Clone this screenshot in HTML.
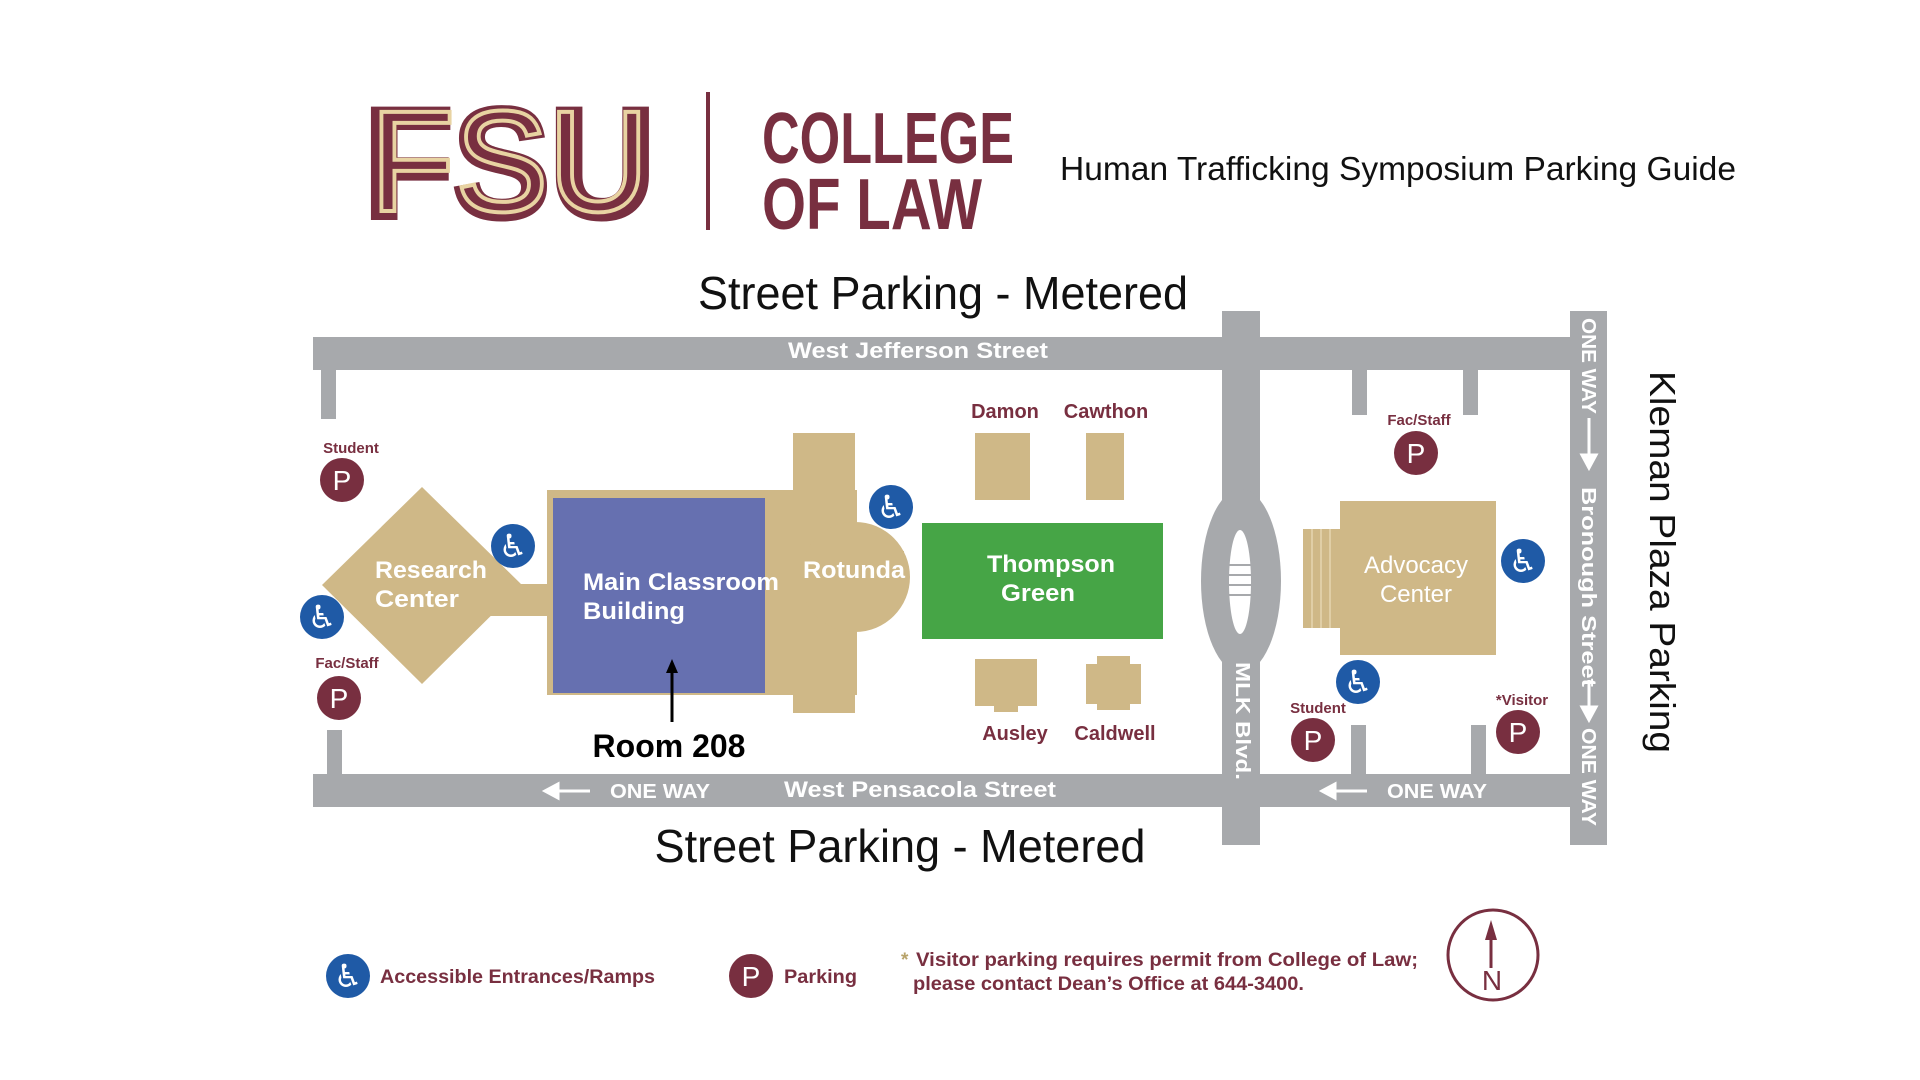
<!DOCTYPE html>
<html><head><meta charset="utf-8"><style>
html,body{margin:0;padding:0;background:#fff;width:1920px;height:1080px;overflow:hidden}
svg{display:block}
text{font-family:"Liberation Sans","DejaVu Sans",sans-serif}
</style></head><body>
<svg width="1920" height="1080" viewBox="0 0 1920 1080" xmlns="http://www.w3.org/2000/svg">
<defs>
<g id="wc"><circle r="22" fill="#1f5aa6"/><text y="11" text-anchor="middle" font-size="32" fill="#fff" font-family="DejaVu Sans">♿</text></g>
<g id="pk"><circle r="22" fill="#782f40"/><text y="10" text-anchor="middle" font-size="28" fill="#fff">P</text></g>
</defs>
<!-- Header -->
<text x="364" y="217" font-size="156" font-weight="bold" fill="#782f40" stroke="#782f40" stroke-width="6" textLength="291" lengthAdjust="spacingAndGlyphs">FSU</text>
<text x="370" y="211" font-size="144" fill="none" stroke="#e8d3a2" stroke-width="4" textLength="279" lengthAdjust="spacingAndGlyphs">FSU</text>
<rect x="706" y="92" width="4" height="138" fill="#782f40"/>
<text x="762" y="163" font-size="72" font-weight="bold" fill="#782f40" textLength="252" lengthAdjust="spacingAndGlyphs">COLLEGE</text>
<text x="762" y="229" font-size="72" font-weight="bold" fill="#782f40" textLength="220" lengthAdjust="spacingAndGlyphs">OF LAW</text>
<text x="1060" y="180" font-size="33" fill="#111" textLength="676" lengthAdjust="spacingAndGlyphs">Human Trafficking Symposium Parking Guide</text>
<text x="943" y="309" font-size="46" fill="#111" text-anchor="middle" textLength="490" lengthAdjust="spacingAndGlyphs">Street Parking - Metered</text>
<text x="900" y="862" font-size="46" fill="#111" text-anchor="middle" textLength="491" lengthAdjust="spacingAndGlyphs">Street Parking - Metered</text>
<!-- Roads -->
<g fill="#a7a9ac">
<rect x="313" y="337" width="1294" height="33"/>
<rect x="313" y="774" width="1294" height="33"/>
<rect x="1222" y="311" width="38" height="534"/>
<rect x="1570" y="311" width="37" height="534"/>
<ellipse cx="1241" cy="581" rx="40" ry="92"/>
<rect x="321" y="370" width="15" height="49"/>
<rect x="327" y="730" width="15" height="44"/>
<rect x="1352" y="370" width="15" height="45"/>
<rect x="1463" y="370" width="15" height="45"/>
<rect x="1351" y="725" width="15" height="49"/>
<rect x="1471" y="725" width="15" height="49"/>
</g>
<ellipse cx="1240" cy="582" rx="11" ry="52" fill="#fff"/>
<g stroke="#a7a9ac" stroke-width="2"><line x1="1229" y1="565" x2="1251" y2="565"/><line x1="1229" y1="575" x2="1251" y2="575"/><line x1="1229" y1="585" x2="1251" y2="585"/><line x1="1229" y1="595" x2="1251" y2="595"/></g>
<text x="918" y="358" font-size="22" font-weight="bold" fill="#fff" text-anchor="middle" textLength="260" lengthAdjust="spacingAndGlyphs">West Jefferson Street</text>
<text x="920" y="797" font-size="22" font-weight="bold" fill="#fff" text-anchor="middle" textLength="272" lengthAdjust="spacingAndGlyphs">West Pensacola Street</text>
<text x="610" y="798" font-size="20" font-weight="bold" fill="#fff" textLength="100" lengthAdjust="spacingAndGlyphs">ONE WAY</text>
<text x="1387" y="798" font-size="20" font-weight="bold" fill="#fff" textLength="100" lengthAdjust="spacingAndGlyphs">ONE WAY</text>
<g stroke="#fff" stroke-width="3" fill="#fff"><line x1="555" y1="791" x2="590" y2="791"/><path d="M545 791 L558 784 L558 798Z"/><line x1="1332" y1="791" x2="1367" y2="791"/><path d="M1322 791 L1335 784 L1335 798Z"/>
<line x1="1589" y1="418" x2="1589" y2="458"/><path d="M1589 468 L1582 455 L1596 455Z"/><line x1="1589" y1="680" x2="1589" y2="710"/><path d="M1589 720 L1582 707 L1596 707Z"/></g>
<g font-size="20" font-weight="bold" fill="#fff">
<text transform="translate(1582,318) rotate(90)" textLength="96" lengthAdjust="spacingAndGlyphs">ONE WAY</text>
<text transform="translate(1582,487) rotate(90)" textLength="200" lengthAdjust="spacingAndGlyphs">Bronough Street</text>
<text transform="translate(1582,728) rotate(90)" textLength="98" lengthAdjust="spacingAndGlyphs">ONE WAY</text>
<text transform="translate(1236,662) rotate(90)" textLength="118" lengthAdjust="spacingAndGlyphs">MLK Blvd.</text>
</g>
<text transform="translate(1650,371) rotate(90)" font-size="36" fill="#111" textLength="382" lengthAdjust="spacingAndGlyphs">Kleman Plaza Parking</text>
<!-- Buildings -->
<g fill="#cfb887">
<polygon points="422,487 522,585 422,684 322,585"/>
<rect x="490" y="584" width="62" height="32"/>
<rect x="547" y="490" width="218" height="205"/>
<rect x="749" y="490" width="108" height="205"/>
<rect x="793" y="433" width="62" height="280"/>
<circle cx="855" cy="577" r="55"/>
<rect x="855" y="551" width="49" height="49"/>
<rect x="975" y="433" width="55" height="67"/>
<rect x="1086" y="433" width="38" height="67"/>
<rect x="975" y="659" width="62" height="47"/><rect x="994" y="700" width="24" height="12"/>
<rect x="1086" y="664" width="55" height="40"/><rect x="1097" y="656" width="33" height="54"/>
<rect x="1303" y="529" width="37" height="99"/>
<rect x="1340" y="501" width="156" height="154"/>
</g>
<g stroke="#e5d6b0" stroke-width="1.5"><line x1="1312" y1="529" x2="1312" y2="628"/><line x1="1321" y1="529" x2="1321" y2="628"/><line x1="1330" y1="529" x2="1330" y2="628"/></g>
<rect x="553" y="498" width="212" height="195" fill="#6670b0"/>
<rect x="922" y="523" width="241" height="116" fill="#46a546"/>
<g font-size="24" font-weight="bold" fill="#fff">
<text x="375" y="578" textLength="112" lengthAdjust="spacingAndGlyphs">Research</text>
<text x="375" y="607" textLength="84" lengthAdjust="spacingAndGlyphs">Center</text>
<text x="583" y="590" textLength="196" lengthAdjust="spacingAndGlyphs">Main Classroom</text>
<text x="583" y="619" textLength="102" lengthAdjust="spacingAndGlyphs">Building</text>
<text x="803" y="578" textLength="102" lengthAdjust="spacingAndGlyphs">Rotunda</text>
<text x="1051" y="572" text-anchor="middle" textLength="128" lengthAdjust="spacingAndGlyphs">Thompson</text>
<text x="1038" y="601" text-anchor="middle" textLength="74" lengthAdjust="spacingAndGlyphs">Green</text>
</g>
<g font-size="24" fill="#fff" text-anchor="middle"><text x="1416" y="573">Advocacy</text><text x="1416" y="602">Center</text></g>
<g font-size="20" font-weight="bold" fill="#782f40" text-anchor="middle">
<text x="1005" y="418">Damon</text><text x="1106" y="418">Cawthon</text>
<text x="1015" y="740">Ausley</text><text x="1115" y="740">Caldwell</text>
</g>
<g font-size="15" font-weight="bold" fill="#782f40" text-anchor="middle">
<text x="351" y="453">Student</text><text x="347" y="668">Fac/Staff</text>
<text x="1419" y="425">Fac/Staff</text><text x="1318" y="713">Student</text><text x="1522" y="705">*Visitor</text>
</g>
<text x="669" y="757" font-size="32" font-weight="bold" fill="#000" text-anchor="middle">Room 208</text>
<line x1="672" y1="722" x2="672" y2="670" stroke="#000" stroke-width="3"/><path d="M672 659 L666 673 L678 673Z" fill="#000"/>
<!-- icons -->
<use href="#wc" x="513" y="546"/><use href="#wc" x="322" y="617"/><use href="#wc" x="891" y="507"/><use href="#wc" x="1523" y="561"/><use href="#wc" x="1358" y="682"/><use href="#wc" x="348" y="976"/>
<use href="#pk" x="342" y="480"/><use href="#pk" x="339" y="698"/><use href="#pk" x="1416" y="453"/><use href="#pk" x="1313" y="740"/><use href="#pk" x="1518" y="732"/><use href="#pk" x="751" y="976"/>
<!-- legend -->
<g font-size="19" font-weight="bold" fill="#782f40">
<text x="380" y="983" textLength="275" lengthAdjust="spacingAndGlyphs">Accessible Entrances/Ramps</text>
<text x="784" y="983" textLength="73" lengthAdjust="spacingAndGlyphs">Parking</text>
<text x="901" y="966"><tspan fill="#b8a36a">*</tspan></text>
<text x="916" y="966" textLength="502" lengthAdjust="spacingAndGlyphs">Visitor parking requires permit from College of Law;</text>
<text x="913" y="990" textLength="391" lengthAdjust="spacingAndGlyphs">please contact Dean’s Office at 644-3400.</text>
</g>
<circle cx="1493" cy="955" r="45" fill="none" stroke="#782f40" stroke-width="3"/>
<line x1="1491" y1="938" x2="1491" y2="968" stroke="#782f40" stroke-width="3"/><path d="M1491 920 L1485 940 L1497 940Z" fill="#782f40"/>
<text x="1492" y="990" font-size="28" fill="#782f40" text-anchor="middle">N</text>
</svg>
</body></html>
